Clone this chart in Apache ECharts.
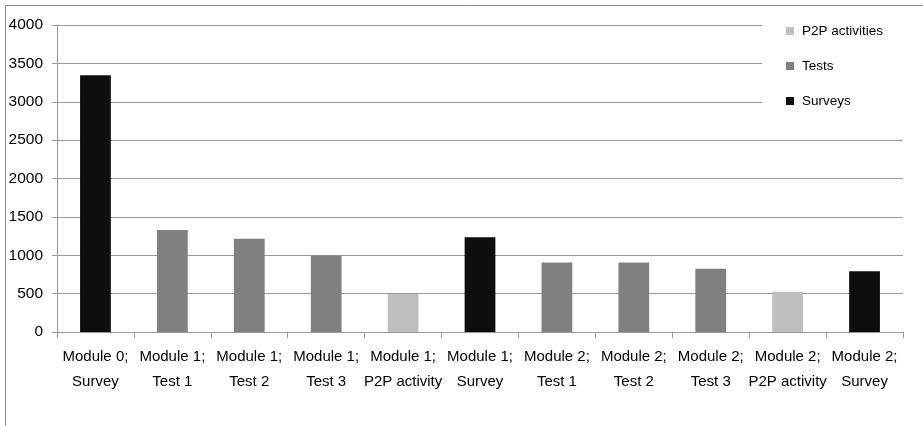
<!DOCTYPE html>
<html>
<head>
<meta charset="utf-8">
<script src="https://cdn.jsdelivr.net/npm/echarts@6/dist/echarts.min.js"></script>
<style>
html,body{margin:0;padding:0;background:#fff;}
#chart{width:923px;height:426px;}
</style>
</head>
<body>
<div id="chart"></div>
<script>
var categories = ["Module 0;\nSurvey","Module 1;\nTest 1","Module 1;\nTest 2","Module 1;\nTest 3","Module 1;\nP2P activity","Module 1;\nSurvey","Module 2;\nTest 1","Module 2;\nTest 2","Module 2;\nTest 3","Module 2;\nP2P activity","Module 2;\nSurvey"];
var p2pValues = [null,null,null,null,495,null,null,null,null,525,null];
var testValues = [null,1330,1215,995,null,null,905,905,825,null,null];
var surveyValues = [3345,null,null,null,null,1235,null,null,null,null,790];
var yTicks = [0,500,1000,1500,2000,2500,3000,3500,4000];

var chart = echarts.init(document.getElementById('chart'));
var font = 'Liberation Sans';
chart.setOption({
  animation: false,
  backgroundColor: '#fff',
  graphic: [{
    type: 'rect', z: -10,
    shape: {x: 5.5, y: 5.5, width: 2000, height: 2000},
    style: {fill: 'none', stroke: '#8c8c8c', lineWidth: 1}
  }],
  grid: {left: 57, right: 20, top: 25, bottom: 94, containLabel: false},
  legend: {
    orient: 'vertical',
    left: 762, top: 12,
    padding: [12, 20, 12, 24],
    backgroundColor: '#fff',
    itemWidth: 8, itemHeight: 8,
    itemGap: 21,
    icon: 'rect',
    data: ['P2P activities', 'Tests', 'Surveys'],
    textStyle: {fontFamily: font, fontSize: 13.5, color: '#000', padding: [0,0,0,3]}
  },
  xAxis: {
    type: 'category',
    data: categories,
    axisLine: {lineStyle: {color: '#999999', width: 1}},
    axisTick: {show: true, length: 6, lineStyle: {color: '#999999'}},
    axisLabel: {interval: 0, fontFamily: font, fontSize: 15, color: '#000', lineHeight: 25, margin: 12}
  },
  yAxis: {
    type: 'value',
    min: 0, max: 4000, interval: 500,
    axisLine: {show: true, lineStyle: {color: '#999999', width: 1}},
    axisTick: {show: true, length: 5, lineStyle: {color: '#999999'}},
    splitLine: {lineStyle: {color: '#999999', width: 1}},
    axisLabel: {fontFamily: font, fontSize: 15.5, color: '#000', margin: 14,
      formatter: function(v){ return yTicks.indexOf(v) >= 0 ? String(v) : ''; }}
  },
  series: [
    {name: 'P2P activities', type: 'bar', stack: 'all', data: p2pValues, barWidth: '40%', itemStyle: {color: '#bfbfbf'}},
    {name: 'Tests', type: 'bar', stack: 'all', data: testValues, barWidth: '40%', itemStyle: {color: '#808080'}},
    {name: 'Surveys', type: 'bar', stack: 'all', data: surveyValues, barWidth: '40%', itemStyle: {color: '#0d0d0d'}}
  ]
});
</script>
</body>
</html>
